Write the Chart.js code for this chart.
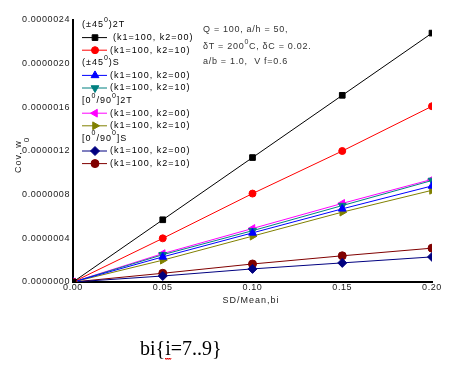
<!DOCTYPE html>
<html>
<head>
<meta charset="utf-8">
<script src="https://cdn.jsdelivr.net/npm/chart.js@4.4.1/dist/chart.umd.min.js"></script>
<style>
  html, body { margin: 0; padding: 0; background: #fff; }
  canvas { display: block; }
</style>
</head>
<body>
<canvas id="chart" width="449" height="367"></canvas>
<script>
// SD/Mean of bi
const sdMean = [0, 0.05, 0.10, 0.15, 0.20];

// (±45)2T
const ang2T_k00 = [0, 5.7e-7, 1.14e-6, 1.71e-6, 2.28e-6];
const ang2T_k10 = [0, 4.0e-7, 8.1e-7, 1.20e-6, 1.61e-6];
// (±45)S
const angS_k00 = [0, 2.3e-7, 4.5e-7, 6.7e-7, 8.8e-7];
const angS_k10 = [0, 2.5e-7, 4.7e-7, 7.0e-7, 9.3e-7];
// [0/90]2T
const cross2T_k00 = [0, 2.6e-7, 4.9e-7, 7.2e-7, 9.4e-7];
const cross2T_k10 = [0, 2.0e-7, 4.2e-7, 6.4e-7, 8.4e-7];
// [0/90]S
const crossS_k00 = [0, 0.55e-7, 1.2e-7, 1.75e-7, 2.3e-7];
const crossS_k10 = [0, 0.8e-7, 1.65e-7, 2.4e-7, 3.1e-7];

const yTicks = [0, 4e-7, 8e-7, 1.2e-6, 1.6e-6, 2.0e-6, 2.4e-6];

const series = [
  { data: ang2T_k00, color: '#000000', style: 'rect', radius: 4, rot: 0 },
  { data: ang2T_k10, color: '#ff0000', style: 'circle', radius: 3.5, rot: 0 },
  { data: angS_k00, color: '#0000ff', style: 'triangle', radius: 4.5, rot: 0 },
  { data: angS_k10, color: '#008080', style: 'triangle', radius: 4.5, rot: 180 },
  { data: cross2T_k00, color: '#ff00ff', style: 'triangle', radius: 4.5, rot: -90 },
  { data: cross2T_k10, color: '#808000', style: 'triangle', radius: 4.5, rot: 90 },
  { data: crossS_k00, color: '#000080', style: 'rectRot', radius: 4.5, rot: 0 },
  { data: crossS_k10, color: '#800000', style: 'circle', radius: 4, rot: 0 }
];

const legendRows = [
  { head: ['(±45', ')2T'] },
  { s: 0, text: '(k1=100, k2=00)' },
  { s: 1, text: '(k1=100, k2=10)' },
  { head: ['(±45', ')S'] },
  { s: 2, text: '(k1=100, k2=00)' },
  { s: 3, text: '(k1=100, k2=10)' },
  { head: ['[0', '/90', ']2T'] },
  { s: 4, text: '(k1=100, k2=00)' },
  { s: 5, text: '(k1=100, k2=10)' },
  { head: ['[0', '/90', ']S'] },
  { s: 6, text: '(k1=100, k2=00)' },
  { s: 7, text: '(k1=100, k2=10)' }
];

const FONT = '"Liberation Sans", Arial, sans-serif';

function supText(ctx, parts, x, y, sz) {
  // parts separated by a superscript "0"
  parts.forEach((p, i) => {
    ctx.font = sz + 'px ' + FONT;
    ctx.fillText(p, x, y);
    x += ctx.measureText(p).width;
    if (i < parts.length - 1) {
      ctx.font = (sz - 2) + 'px ' + FONT;
      ctx.fillText('0', x, y - 5);
      x += ctx.measureText('0').width;
    }
  });
}

const overlay = {
  id: 'overlay',
  beforeDraw(chart) {
    chart.ctx.letterSpacing = '0.6px';
  },
  afterDraw(chart) {
    const ctx = chart.ctx;
    ctx.save();
    ctx.letterSpacing = '1px';
    ctx.fillStyle = '#000';
    ctx.textBaseline = 'middle';
    ctx.textAlign = 'left';

    // legend
    let y = 25;
    legendRows.forEach(row => {
      if (row.head) {
        ctx.fillStyle = '#000';
        supText(ctx, row.head, 82, y, 9);
      } else {
        const s = series[row.s];
        ctx.strokeStyle = s.color;
        ctx.lineWidth = 1;
        ctx.beginPath();
        ctx.moveTo(82, y);
        ctx.lineTo(107, y);
        ctx.stroke();
        ctx.fillStyle = s.color;
        Chart.helpers.drawPoint(ctx, {
          pointStyle: s.style, radius: s.radius, rotation: s.rot, borderWidth: 1
        }, 95, y);
        ctx.fillStyle = '#000';
        ctx.font = '9px ' + FONT;
        ctx.fillText(row.text, row.s === 0 ? 113 : 110, y);
      }
      y += 12.6;
    });

    // parameters
    ctx.letterSpacing = '0.7px';
    ctx.fillStyle = '#333';
    ctx.font = '9px ' + FONT;
    ctx.fillText('Q = 100, a/h = 50,', 203, 30);
    supText(ctx, ['δT = 200', 'C, δC = 0.02.'], 203, 47, 9);
    ctx.font = '9px ' + FONT;
    ctx.fillText('a/b = 1.0,  V f=0.6', 203, 62);

    // x axis title
    ctx.letterSpacing = '1px';
    ctx.fillStyle = '#222';
    ctx.textAlign = 'center';
    ctx.fillText('SD/Mean,bi', 251, 301);

    // y axis title
    ctx.save();
    ctx.translate(19, 173);
    ctx.rotate(-Math.PI / 2);
    ctx.textAlign = 'left';
    ctx.font = '9px ' + FONT;
    ctx.fillText('Cov, w', 0, 0);
    const w = ctx.measureText('Cov, w').width;
    ctx.font = '8px ' + FONT;
    ctx.fillText('0', w - 2, 8);
    ctx.restore();

    // bottom caption
    ctx.letterSpacing = '0px';
    ctx.fillStyle = '#000';
    ctx.textAlign = 'left';
    ctx.textBaseline = 'alphabetic';
    ctx.font = '20px "Liberation Serif", "Times New Roman", serif';
    ctx.fillText('bi{i=7..9}', 140, 355);
    // red squiggle under i
    const px = 140 + ctx.measureText('bi{').width;
    ctx.strokeStyle = '#e00000';
    ctx.lineWidth = 1;
    ctx.beginPath();
    for (let i = 0; i <= 6; i++) {
      const xx = px + i;
      const yy = 358 + (i % 2 === 0 ? 0 : 1.5);
      if (i === 0) ctx.moveTo(xx, yy); else ctx.lineTo(xx, yy);
    }
    ctx.stroke();
    ctx.restore();
  }
};

new Chart(document.getElementById('chart'), {
  type: 'line',
  data: {
    datasets: series.map(s => ({
      data: s.data.map((v, i) => ({ x: sdMean[i], y: v })),
      borderColor: s.color,
      backgroundColor: s.color,
      borderWidth: 1,
      pointStyle: s.style,
      pointRadius: s.radius,
      pointRotation: s.rot,
      pointBorderWidth: 1,
      tension: 0,
      fill: false
    }))
  },
  options: {
    responsive: false,
    animation: false,
    layout: { padding: { top: 20, right: 17, left: 0, bottom: 0 } },
    plugins: {
      legend: { display: false },
      tooltip: { enabled: false }
    },
    scales: {
      x: {
        type: 'linear',
        min: 0,
        max: 0.2,
        grid: { display: false, drawTicks: false },
        border: { color: '#000', width: 2 },
        ticks: {
          stepSize: 0.05,
          padding: 0,
          color: '#222',
          font: { family: FONT, size: 9 },
          maxRotation: 0,
          callback: v => v.toFixed(2)
        },
        afterFit: scale => { scale.height = 85; }
      },
      y: {
        min: 0,
        max: 2.4e-6,
        grid: { display: false, drawTicks: false },
        border: { color: '#000', width: 2 },
        afterBuildTicks: scale => { scale.ticks = yTicks.map(v => ({ value: v })); },
        ticks: {
          padding: 3,
          color: '#222',
          font: { family: FONT, size: 9 },
          callback: v => v.toFixed(7)
        },
        afterFit: scale => { scale.width = 73; }
      }
    }
  },
  plugins: [overlay]
});
</script>
</body>
</html>
